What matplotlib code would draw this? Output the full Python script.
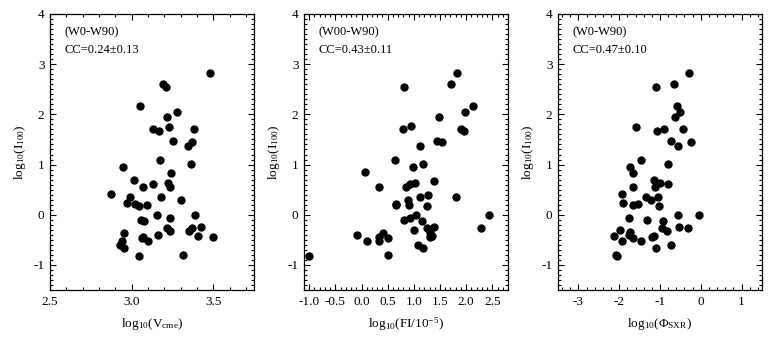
import numpy as np
import matplotlib
matplotlib.use("Agg")
import matplotlib.pyplot as plt
from matplotlib.ticker import MultipleLocator

plt.rcParams['font.family'] = ['Liberation Serif', 'DejaVu Serif']
plt.rcParams['mathtext.fontset'] = 'custom'
plt.rcParams['mathtext.rm'] = 'Liberation Serif'
plt.rcParams['mathtext.it'] = 'Liberation Serif'
plt.rcParams['axes.unicode_minus'] = False

# log10(I100), shared by all three panels
log_i100 = [2.82, 2.61, 2.54, 2.17, 2.04, 1.95, 1.70, 1.67, 1.75, 1.70,
            1.45, 1.47, 1.36, 1.10, 1.02, 0.96, 0.84, 0.69, 0.61, 0.63,
            0.56, 0.56, 0.41, 0.36, 0.36, 0.30, 0.23, 0.21, 0.17, 0.19,
            -0.01, -0.06, -0.01, -0.11, -0.12, -0.41, -0.26, -0.32, -0.27, -0.32,
            -0.25, -0.43, -0.44, -0.36, -0.45, -0.47, -0.52, -0.52, -0.60, -0.67,
            -0.82, -0.81]
log_vcme = [3.479, 3.191, 3.212, 3.053, 3.276, 3.218, 3.132, 3.165, 3.228, 3.383,
            3.372, 3.251, 3.348, 3.171, 3.366, 2.947, 3.243, 3.014, 3.132, 3.222,
            3.233, 3.072, 2.872, 2.992, 3.179, 3.305, 2.973, 3.019, 3.047, 3.093,
            3.158, 3.235, 3.391, 3.056, 3.078, 3.160, 3.216, 3.235, 3.368, 3.350,
            3.424, 3.405, 3.498, 2.953, 3.068, 3.062, 3.101, 2.940, 2.926, 2.953,
            3.047, 3.317]

log_i100_b = [2.82, 2.61, 2.54, 2.17, 2.04, 1.95, 1.70, 1.76, 1.70, 1.67,
              1.47, 1.45, 1.36, 1.10, 1.02, 0.85, 0.96, 0.68, 0.56, 0.56,
              0.61, 0.63, 0.40, 0.36, 0.36, 0.30, 0.22, 0.20, 0.19, 0.17,
              -0.06, -0.01, -0.01, -0.11, -0.12, -0.30, -0.26, -0.25, -0.36, -0.26,
              -0.43, -0.44, -0.40, -0.44, -0.36, -0.46, -0.52, -0.52, -0.60, -0.66,
              -0.80, -0.83]
log_fi = [1.831, 1.718, 0.810, 2.134, 1.970, 1.484, 0.797, 0.948, 1.894, 1.951,
          1.446, 1.547, 1.125, 0.646, 1.182, 0.072, 0.986, 1.390, 0.330, 0.841,
          0.936, 1.030, 1.270, 1.112, 1.812, 0.879, 0.665, 0.652, 0.904, 1.245,
          0.917, 1.037, 2.436, 0.810, 1.156, 0.999, 1.251, 1.377, 1.308, 2.279,
          1.339, 1.314, -0.086, 0.330, 0.406, 0.507, 0.330, 0.097, 1.087, 1.175,
          0.513, -1.0]

log_i100_c = [2.82, 2.61, 2.54, 2.17, 2.04, 1.95, 1.75, 1.70, 1.70, 1.67,
              1.47, 1.45, 1.36, 1.10, 1.02, 0.96, 0.84, 0.69, 0.63, 0.61,
              0.56, 0.56, 0.41, 0.36, 0.36, 0.30, 0.23, 0.19, 0.21, 0.17,
              -0.06, -0.01, -0.01, -0.11, -0.12, -0.26, -0.32, -0.26, -0.25, -0.31,
              -0.35, -0.40, -0.46, -0.43, -0.44, -0.43, -0.52, -0.52, -0.60, -0.67,
              -0.80, -0.83]
log_sxr = [-0.301, -0.650, -1.089, -0.577, -0.520, -0.626, -1.593, -0.911, -0.447, -1.065,
           -0.740, -0.228, -0.561, -1.472, -0.797, -1.740, -1.667, -1.154, -0.999, -0.813,
           -1.114, -1.650, -1.927, -1.333, -1.041, -1.228, -1.919, -1.650, -1.528, -1.016,
           -1.756, -0.569, -0.041, -1.309, -0.919, -0.951, -0.829, -0.317, -0.545, -1.976,
           -1.724, -1.772, -1.659, -2.130, -1.187, -1.138, -1.463, -1.943, -0.732, -1.089,
           -2.081, -2.049]

panels = [
    (log_vcme, log_i100, r'log$_{10}$(V$_{\rm cme}$)', '(W0-W90)', 'CC=0.24\u00b10.13',
     (2.5, 3.75), 0.1, [2.5, 3.0, 3.5], '%.1f'),
    (log_fi, log_i100_b, r'log$_{10}$(FI/10$^{-5}$)', '(W00-W90)', 'CC=0.43\u00b10.11',
     (-1.1, 2.8), 0.1, [-1.0, -0.5, 0.0, 0.5, 1.0, 1.5, 2.0, 2.5], '%.1f'),
    (log_sxr, log_i100_c, r'log$_{10}$($\Phi_{\rm SXR}$)', '(W0-W90)', 'CC=0.47\u00b10.10',
     (-3.5, 1.5), 0.2, [-3, -2, -1, 0, 1], '%d'),
]

fig = plt.figure(figsize=(7.75, 3.46), dpi=100)
lefts = [50, 304, 558]
width = 204
for (xv, yv, xlab, t1, t2, xlim, mnr, xt, fmt), left in zip(panels, lefts):
    ax = fig.add_axes([left / 775, 56 / 346, width / 775, 276 / 346])
    ax.plot(xv, yv, 'o', color='black', markersize=5, linestyle='none')
    ax.set_xlim(*xlim)
    ax.set_ylim(-1.5, 4)
    ax.set_xticks(xt)
    ax.set_xticklabels([fmt % v for v in xt])
    ax.xaxis.set_minor_locator(MultipleLocator(mnr))
    ax.set_yticks([-1, 0, 1, 2, 3, 4])
    ax.yaxis.set_minor_locator(MultipleLocator(0.1))
    ax.tick_params(which='both', direction='in', top=True, right=True, labelsize=9.5, width=0.8)
    ax.tick_params(which='major', length=4.5, pad=4)
    ax.tick_params(which='minor', length=2.5)
    for s in ax.spines.values():
        s.set_linewidth(0.9)
    ax.set_xlabel(xlab, fontsize=9.5, labelpad=6)
    ax.set_ylabel(r'log$_{10}$(I$_{100}$)', fontsize=9.5, labelpad=4)
    ax.text(0.07, 0.955, t1, transform=ax.transAxes, fontsize=9, va='top')
    ax.text(0.07, 0.87, t2, transform=ax.transAxes, fontsize=9, va='center')

fig.savefig('out.png', dpi=100)
